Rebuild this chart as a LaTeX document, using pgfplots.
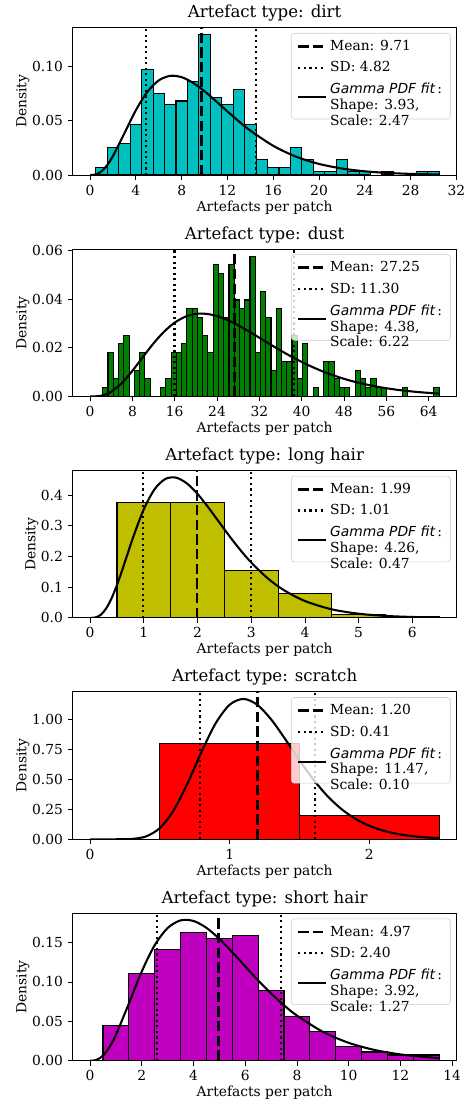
\documentclass[border=0pt]{standalone}
\usepackage{fontspec}
\setmainfont{DejaVu Serif}
\setsansfont{DejaVu Sans}
\usepackage{pgfplots}
\pgfplotsset{compat=1.18}

\definecolor{mplc}{rgb}{0,0.75,0.75}
\definecolor{mplg}{rgb}{0,0.5,0}
\definecolor{mply}{rgb}{0.75,0.75,0}
\definecolor{mplr}{rgb}{1,0,0}
\definecolor{mplm}{rgb}{0.75,0,0.75}

\newcommand{\fitentry}[2]{\renewcommand{\arraystretch}{0.95}\begin{tabular}[c]{@{}l@{}}{\sffamily\itshape Gamma PDF fit}\,:\\Shape: #1,\\Scale: #2\end{tabular}}

\pgfplotsset{
  panel/.style={
    width=277.5pt, height=106.5pt, scale only axis,
    anchor=north west,
    axis line style={line width=0.6pt},
    tick align=outside, tick pos=left,
    major tick length=3.5pt,
    every tick/.style={black, line width=0.6pt},
    scaled ticks=false,
    /pgf/number format/assume math mode=true,
    ymin=0,
    xlabel={Artefacts per patch}, ylabel={Density},
    xlabel shift=-3pt, ylabel shift=-5pt,
    every axis title shift=1pt,
    title style={font=\fontsize{12}{14}\selectfont},
    legend cell align=left,
    legend style={at={(0.984,0.964)}, anchor=north east,
      draw=black!20, rounded corners=2pt, fill=white,
      fill opacity=0.8, text opacity=1,
      row sep=2.5pt, inner xsep=4pt, inner ysep=3pt},
    legend image code/.code={\draw[##1] (0pt,0pt) -- (20pt,0pt);},
    yticklabel style={/pgf/number format/.cd, fixed, fixed zerofill, precision=2},
  },
  bars/.style={ybar, bar shift=0pt, bar width=#1, draw=black, line width=0.8pt, forget plot},
  meanline/.style={black, line width=2pt, dash pattern=on 7.4pt off 3.2pt},
  sdline/.style={black, line width=1.5pt, dash pattern=on 1.5pt off 2.5pt},
  fitline/.style={black, line width=1.5pt, smooth},
}

\begin{document}
\begin{tikzpicture}

% dirt
\begin{axis}[panel, at={(0pt,0pt)}, title={Artefact type: dirt},
  xmin=-1.525, xmax=32.025, ymax=0.136,
  xtick={0,4,...,32}, ytick={0,0.05,0.10}]
\addplot[bars=1, fill=mplc] coordinates {
  (1,0.00719) (2,0.02518) (3,0.02878) (4,0.04676) (5,0.09712) (6,0.07554)
  (7,0.06475) (8,0.06835) (9,0.08633) (10,0.12950) (11,0.07194) (12,0.06475)
  (13,0.07914) (14,0.04676) (15,0.01439) (16,0.00719) (17,0.00719) (18,0.02518)
  (19,0.01439) (20,0.00360) (21,0.00360) (22,0.01439) (23,0.00360) (24,0.00360)
  (26,0.00360) (29,0.00360) (30,0.00360)};
\addplot[meanline] coordinates {(9.71,0) (9.71,0.136)};
\addlegendentry{Mean: 9.71}
\addplot[sdline] coordinates {(4.89,0) (4.89,0.136)};
\addlegendentry{SD: 4.82}
\addplot[sdline, forget plot] coordinates {(14.53,0) (14.53,0.136)};
\addplot[fitline] coordinates {
  (0,0) (0.5,0.000557) (1,0.00347) (1.5,0.0093) (2,0.01765) (3,0.03861)
  (4,0.05985) (5,0.07678) (6,0.08736) (7,0.09156) (8,0.0903) (9,0.08508)
  (10,0.0773) (11,0.06817) (12,0.05868) (13,0.04948) (14,0.04102) (16,0.02699)
  (18,0.01695) (20,0.01027) (22,0.00605) (24,0.00347) (26,0.00195) (28,0.00108)
  (30.5,0.000504)};
\addlegendentry{\fitentry{3.93}{2.47}}
\end{axis}

% dust
\begin{axis}[panel, at={(0pt,-160pt)}, title={Artefact type: dust},
  xmin=-3.3, xmax=69.3, ymax=0.0605,
  xtick={0,8,...,64}, ytick={0,0.02,0.04,0.06}]
\addplot[bars=0.99375, fill=mplg] coordinates {
  (2.90,0.0036) (3.89,0.0180) (4.89,0.0072) (5.88,0.0216) (6.87,0.0252)
  (8.86,0.0108) (9.85,0.0180) (10.85,0.0072) (13.83,0.0036) (14.82,0.0072)
  (15.82,0.0180) (16.81,0.0180) (17.80,0.0216) (18.80,0.0360) (19.79,0.0360)
  (20.78,0.0324) (21.78,0.0252) (22.77,0.0180) (23.77,0.0540) (24.76,0.0504)
  (25.75,0.0324) (26.75,0.0540) (27.74,0.0396) (28.73,0.0360) (29.73,0.0396)
  (30.72,0.0576) (31.71,0.0180) (32.71,0.0432) (33.70,0.0324) (34.70,0.0108)
  (35.69,0.0360) (36.68,0.0144) (37.68,0.0144) (38.67,0.0252) (39.67,0.0072)
  (40.66,0.0216) (42.65,0.0036) (44.63,0.0144) (45.63,0.0144) (46.62,0.0072)
  (47.61,0.0036) (48.61,0.0036) (50.60,0.0108) (51.59,0.0072) (52.58,0.0036)
  (53.58,0.0072) (54.57,0.0036) (55.57,0.0036) (59.54,0.0036) (65.50,0.0036)};
\addplot[meanline] coordinates {(27.25,0) (27.25,0.0605)};
\addlegendentry{Mean: 27.25}
\addplot[sdline] coordinates {(15.95,0) (15.95,0.0605)};
\addlegendentry{SD: 11.30}
\addplot[sdline, forget plot] coordinates {(38.55,0) (38.55,0.0605)};
\addplot[fitline] coordinates {
  (0,0) (1,0.0000288) (2,0.000255) (3,0.000856) (4,0.00193) (6,0.0055)
  (8,0.01054) (10,0.01625) (12,0.02182) (14,0.02663) (16,0.03032) (18,0.03273)
  (20,0.03389) (22,0.03391) (24,0.03299) (26,0.03135) (28,0.0292) (30,0.02673)
  (32,0.02411) (35,0.02015) (38,0.01643) (41,0.01311) (44,0.01027) (47,0.00793)
  (50,0.00603) (54,0.00411) (58,0.00275) (62,0.00181) (66,0.00118)};
\addlegendentry{\fitentry{4.38}{6.22}}
\end{axis}

% long hair
\begin{axis}[panel, at={(0pt,-320pt)}, title={Artefact type: long hair},
  xmin=-0.325, xmax=6.825, ymax=0.48,
  xtick={0,1,...,6}, ytick={0,0.1,0.2,0.3,0.4},
  yticklabel style={/pgf/number format/precision=1}]
\addplot[bars=1, fill=mply] coordinates {
  (1,0.375) (2,0.375) (3,0.155) (4,0.080) (5,0.010) (6,0.004)};
\addplot[meanline] coordinates {(1.99,0) (1.99,0.48)};
\addlegendentry{Mean: 1.99}
\addplot[sdline] coordinates {(0.98,0) (0.98,0.48)};
\addlegendentry{SD: 1.01}
\addplot[sdline, forget plot] coordinates {(3.00,0) (3.00,0.48)};
\addplot[fitline] coordinates {
  (0,0) (0.1,0.00132) (0.2,0.01022) (0.3,0.03097) (0.4,0.06395) (0.5,0.10704)
  (0.6,0.15676) (0.8,0.26165) (1.0,0.35378) (1.2,0.4188) (1.4,0.45243)
  (1.6,0.4568) (1.8,0.43823) (2.0,0.40377) (2.2,0.35995) (2.4,0.31232)
  (2.6,0.26502) (2.8,0.22047) (3.0,0.18039) (3.3,0.12994) (3.6,0.09118)
  (4.0,0.05488) (4.5,0.0278) (5.0,0.01353) (5.5,0.00637) (6.0,0.00292)
  (6.5,0.00131)};
\addlegendentry{\fitentry{4.26}{0.47}}
\end{axis}

% scratch
\begin{axis}[panel, at={(0pt,-480pt)}, title={Artefact type: scratch},
  xmin=-0.125, xmax=2.625, ymax=1.2275,
  xtick={0,1,2}, ytick={0,0.25,0.5,0.75,1}]
\addplot[bars=1, fill=mplr] coordinates {(1,0.8) (2,0.2)};
\addplot[meanline] coordinates {(1.20,0) (1.20,1.2275)};
\addlegendentry{Mean: 1.20}
\addplot[sdline] coordinates {(0.79,0) (0.79,1.2275)};
\addlegendentry{SD: 0.41}
\addplot[sdline, forget plot] coordinates {(1.61,0) (1.61,1.2275)};
\addplot[fitline] coordinates {
  (0,0) (0.1,0) (0.2,0.000113) (0.3,0.00303) (0.4,0.02368) (0.5,0.09417)
  (0.6,0.24418) (0.7,0.47138) (0.8,0.73356) (0.9,0.96792) (1.0,1.1212)
  (1.1,1.16906) (1.2,1.11762) (1.3,0.99332) (1.4,0.82961) (1.5,0.6567)
  (1.6,0.4962) (1.7,0.3599) (1.8,0.25169) (1.9,0.17042) (2.0,0.1121)
  (2.1,0.07179) (2.2,0.04494) (2.3,0.02751) (2.4,0.01651) (2.5,0.00974)};
\addlegendentry{\fitentry{11.47}{0.10}}
\end{axis}

% short hair
\begin{axis}[panel, at={(0pt,-640pt)}, title={Artefact type: short hair},
  xmin=-0.675, xmax=14.175, ymax=0.1871,
  xtick={0,2,...,14}, ytick={0,0.05,0.10,0.15}]
\addplot[bars=1, fill=mplm] coordinates {
  (1,0.0446) (2,0.1109) (3,0.1411) (4,0.1632) (5,0.1555) (6,0.1594)
  (7,0.0888) (8,0.0557) (9,0.0370) (10,0.0183) (11,0.0110) (12,0.0072)
  (13,0.0072)};
\addplot[meanline] coordinates {(4.97,0) (4.97,0.1871)};
\addlegendentry{Mean: 4.97}
\addplot[sdline] coordinates {(2.57,0) (2.57,0.1871)};
\addlegendentry{SD: 2.40}
\addplot[sdline, forget plot] coordinates {(7.37,0) (7.37,0.1871)};
\addplot[fitline] coordinates {
  (0,0) (0.25,0.00104) (0.5,0.00647) (0.75,0.01735) (1,0.03298) (1.5,0.07265)
  (2,0.11349) (2.5,0.14677) (3,0.16848) (3.5,0.17815) (4,0.17737) (4.5,0.16865)
  (5,0.15466) (5.5,0.13771) (6,0.11971) (6.5,0.10194) (7,0.08533) (7.5,0.07035)
  (8,0.05727) (9,0.0367) (10,0.02269) (11,0.01362) (12,0.00798) (13,0.00458)
  (13.5,0.00345)};
\addlegendentry{\fitentry{3.92}{1.27}}
\end{axis}

\pgfresetboundingbox
\path[use as bounding box] (-52.5pt,20pt) rectangle (285pt,-777.8pt);
\end{tikzpicture}
\end{document}
